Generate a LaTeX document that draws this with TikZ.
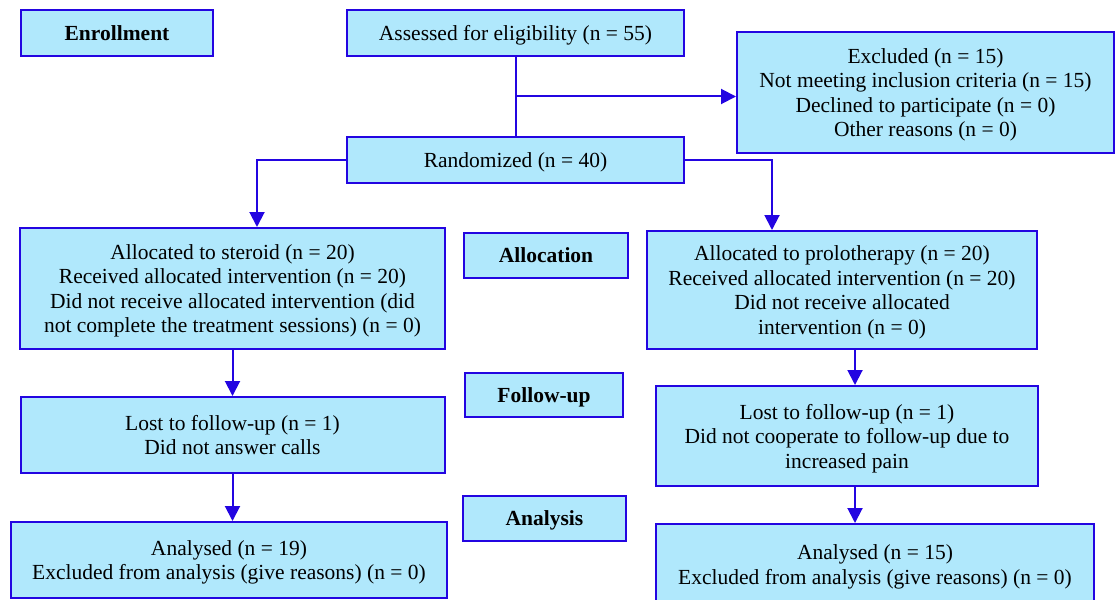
\documentclass[tikz,border=0pt]{standalone}
\usepackage{fontspec}
\setmainfont{Liberation Serif}
\usetikzlibrary{arrows.meta,calc}
\definecolor{bl}{RGB}{35,5,225}
\definecolor{cy}{RGB}{176,232,252}
\begin{document}
\begin{tikzpicture}[x=1pt,y=-1pt,
  box/.style={draw=bl,fill=cy,line width=2pt,align=center,inner sep=0pt,
    text depth=0pt,font=\fontsize{21.5}{24.5}\selectfont},
  lbl/.style={box,font=\fontsize{21.5}{24.5}\selectfont\bfseries},
  arr/.style={draw=bl,line width=2pt,-{Triangle[length=15pt,width=15pt]}},
  ln/.style={draw=bl,line width=2pt}]
\useasboundingbox (0,0) rectangle (1115,599);
\node[lbl,minimum width=192pt,minimum height=46pt] (enr) at (117,33) {Enrollment};
\node[box,minimum width=337pt,minimum height=46pt] (ass) at (515.5,33) {Assessed for eligibility (n = 55)};
\node[box,minimum width=377pt,minimum height=121pt] (exc) at (925.5,92.5) {Excluded (n = 15)\\Not meeting inclusion criteria (n = 15)\\Declined to participate (n = 0)\\Other reasons (n = 0)};
\node[box,minimum width=337pt,minimum height=46pt] (rnd) at (515.5,160) {Randomized (n = 40)};
\node[box,minimum width=425pt,minimum height=121pt] (st) at (232.5,288.5) {Allocated to steroid (n = 20)\\Received allocated intervention (n = 20)\\Did not receive allocated intervention (did\\not complete the treatment sessions) (n = 0)};
\node[lbl,minimum width=164pt,minimum height=45pt] (alloc) at (546,255.5) {Allocation};
\node[box,minimum width=390pt,minimum height=118pt] (pro) at (842,290) {Allocated to prolotherapy (n = 20)\\Received allocated intervention (n = 20)\\Did not receive allocated\\intervention (n = 0)};
\node[box,minimum width=424pt,minimum height=76pt] (fl) at (232.5,435) {Lost to follow-up (n = 1)\\Did not answer calls};
\node[lbl,minimum width=158pt,minimum height=44pt] (fu) at (544,395) {Follow-up};
\node[box,minimum width=382pt,minimum height=100pt] (fr) at (847,436) {Lost to follow-up (n = 1)\\Did not cooperate to follow-up due to\\increased pain};
\node[lbl,minimum width=163pt,minimum height=45pt] (an) at (544.5,518.5) {Analysis};
\node[box,minimum width=436pt,minimum height=76pt] (al) at (229,560) {Analysed (n = 19)\\Excluded from analysis (give reasons) (n = 0)};
\node[box,minimum width=438pt,minimum height=81pt] (ar) at (875,564.5) {Analysed (n = 15)\\Excluded from analysis (give reasons) (n = 0)};
\coordinate (j) at ($(ass.south)!0.5!(rnd.north)$);
\draw[ln] (ass.south) -- (rnd.north);
\draw[arr] (j) -- (j -| exc.west);
\coordinate (sl) at ($(st.north west)+(238,0)$);
\coordinate (sr) at ($(pro.north west)+(126,0)$);
\draw[arr] (rnd.west) -| (sl);
\draw[arr] (rnd.east) -| (sr);
\draw[arr] (st.south) -- (st.south |- fl.north);
\draw[arr] (fl.south) -- (fl.south |- al.north);
\coordinate (rx) at ($(pro.south)+(13,0)$);
\draw[arr] (rx) -- (rx |- fr.north);
\draw[arr] (rx |- fr.south) -- (rx |- ar.north);
\end{tikzpicture}
\end{document}
